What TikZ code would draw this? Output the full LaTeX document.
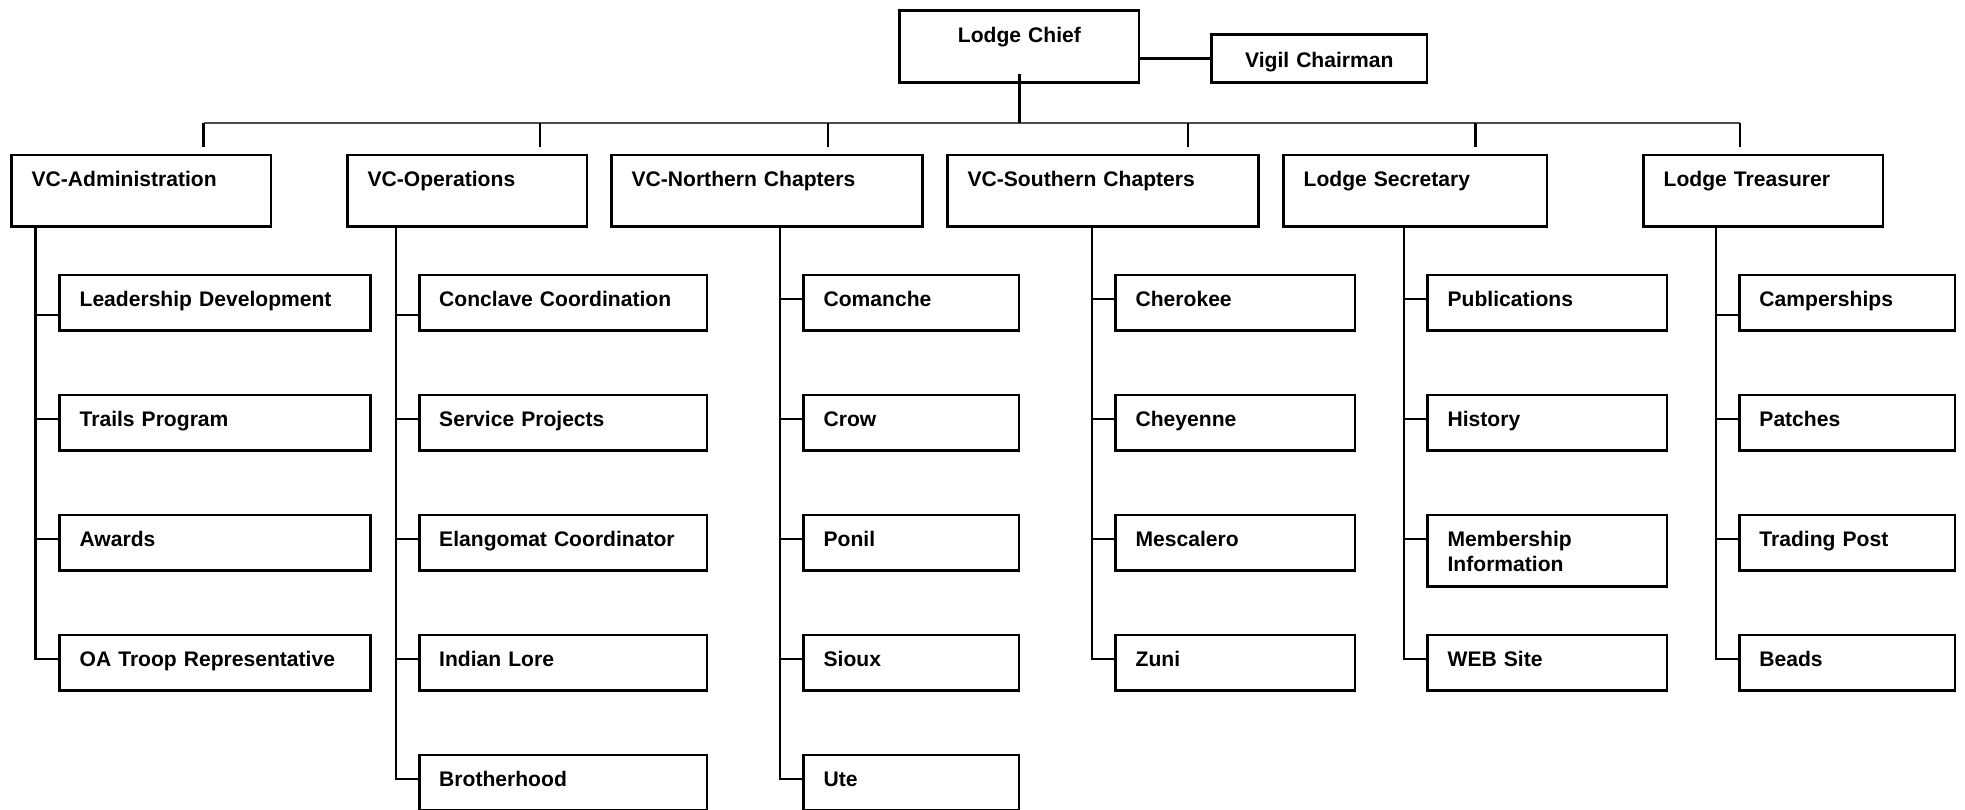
\documentclass[tikz,border=0pt]{standalone}
\usepackage{fontspec}
\setmainfont{Liberation Sans}
\usetikzlibrary{calc}
\newdimen\pxu \pxu=0.56693pt
\definecolor{orgblack}{HTML}{000000}
\definecolor{orggray}{HTML}{4B4B4B}

\begin{document}
\begin{tikzpicture}[x=0.02cm, y=-0.02cm, every node/.style={font=\fontsize{12}{14.2}\selectfont\bfseries},
  orgbox/.style={rectangle, draw=orgblack, line width=2.6\pxu, anchor=north west, outer sep=0pt, inner xsep=20\pxu, inner ysep=0pt, text height=32\pxu},
  chiefbox/.style={orgbox, align=center, text width=#1\pxu},
  headbox/.style={orgbox, align=left, text width=#1\pxu, text depth=40\pxu},
  itembox/.style={orgbox, align=left, text width=#1\pxu, text depth=24\pxu},
  link/.style={draw=orgblack, line width=2.6\pxu},
  busline/.style={draw=orggray, line width=2\pxu},
]
\useasboundingbox (0,0) rectangle (1965,809);
\clip (0,0) rectangle (1965,809);
\node[chiefbox=200.3, text depth=40\pxu] (chief) at (899.7,10.7) {Lodge Chief};
\node[chiefbox=176, text height=33\pxu, text depth=15\pxu] (vigil) at (1211.7,34.7) {Vigil Chairman};
\node[headbox=220.3] (adm) at (11.7,155) {VC-Administration}; \node[headbox=200.3] (ops) at (347.7,155) {VC-Operations}; \node[headbox=272.3] (nth) at (611.7,155) {VC-Northern Chapters};
\node[headbox=272.3] (sth) at (947.7,155) {VC-Southern Chapters}; \node[headbox=224.3] (sec) at (1283.7,155) {Lodge Secretary}; \node[headbox=200.3] (trs) at (1643.7,155) {Lodge Treasurer};
\node[itembox=272.3] (adm1) at (59.7,275) {Leadership Development}; \node[itembox=272.3] (adm2) at (59.7,395) {Trails Program}; \node[itembox=272.3] (adm3) at (59.7,515) {Awards}; \node[itembox=272.3] (adm4) at (59.7,635) {OA Troop Representative};
\node[itembox=249] (ops1) at (419.3,275) {Conclave Coordination}; \node[itembox=249] (ops2) at (419.3,395) {Service Projects}; \node[itembox=249] (ops3) at (419.3,515) {Elangomat Coordinator}; \node[itembox=249] (ops4) at (419.3,635) {Indian Lore}; \node[itembox=249] (ops5) at (419.3,755) {Brotherhood};
\node[itembox=176.3] (nth1) at (803.7,275) {Comanche}; \node[itembox=176.3] (nth2) at (803.7,395) {Crow}; \node[itembox=176.3] (nth3) at (803.7,515) {Ponil}; \node[itembox=176.3] (nth4) at (803.7,635) {Sioux}; \node[itembox=176.3] (nth5) at (803.7,755) {Ute};
\node[itembox=200.3] (sth1) at (1115.7,275) {Cherokee}; \node[itembox=200.3] (sth2) at (1115.7,395) {Cheyenne}; \node[itembox=200.3] (sth3) at (1115.7,515) {Mescalero}; \node[itembox=200.3] (sth4) at (1115.7,635) {Zuni};
\node[itembox=200.3] (sec1) at (1427.7,275) {Publications}; \node[itembox=200.3] (sec2) at (1427.7,395) {History}; \node[itembox=200.3, text depth=40\pxu] (sec3) at (1427.7,515) {Membership\\Information}; \node[itembox=200.3] (sec4) at (1427.7,635) {WEB Site};
\node[itembox=176.5] (trs1) at (1739.5,275) {Camperships}; \node[itembox=176.5] (trs2) at (1739.5,395) {Patches}; \node[itembox=176.5] (trs3) at (1739.5,515) {Trading Post}; \node[itembox=176.5] (trs4) at (1739.5,635) {Beads};
\coordinate (bus) at (0,122.7);
\coordinate (dAdm) at ([shift={(192,-8)}]adm.north west); \coordinate (dOps) at ([shift={(192.3,-8)}]ops.north west); \coordinate (dNth) at ([shift={(216.3,-8)}]nth.north west);
\coordinate (dSth) at ([shift={(240.3,-8)}]sth.north west); \coordinate (dSec) at ([shift={(192,-8)}]sec.north west); \coordinate (dTrs) at ([shift={(96.3,-8)}]trs.north west);
\coordinate (spAdm) at ([shift={(24,0)}]adm.south west); \coordinate (spOps) at ([shift={(48.3,0)}]ops.south west); \coordinate (spNth) at ([shift={(168.3,0)}]nth.south west);
\coordinate (spSth) at ([shift={(144.3,0)}]sth.south west); \coordinate (spSec) at ([shift={(120.3,0)}]sec.south west); \coordinate (spTrs) at ([shift={(72.3,0)}]trs.south west);
\draw[link] (chief.east |- vigil.west) -- (vigil.west);
\draw[busline] (dAdm |- bus) -- (dTrs |- bus);
\draw[link] ([yshift=8\pxu]chief.south) -- (chief.south |- bus);
\draw[link] (dAdm) -- (dAdm |- bus); \draw[link] (dOps) -- (dOps |- bus); \draw[link] (dNth) -- (dNth |- bus); \draw[link] (dSth) -- (dSth |- bus); \draw[link] (dSec) -- (dSec |- bus); \draw[link] (dTrs) -- (dTrs |- bus);
\draw[link] ([shift={(0,40)}]adm1.north west) -| (spAdm); \draw[link] ([shift={(0,24)}]adm2.north west) -| (spAdm); \draw[link] ([shift={(0,24)}]adm3.north west) -| (spAdm); \draw[link] ([shift={(0,24)}]adm4.north west) -| (spAdm);
\draw[link] ([shift={(0,40)}]ops1.north west) -| (spOps); \draw[link] ([shift={(0,24)}]ops2.north west) -| (spOps); \draw[link] ([shift={(0,24)}]ops3.north west) -| (spOps); \draw[link] ([shift={(0,24)}]ops4.north west) -| (spOps); \draw[link] ([shift={(0,24)}]ops5.north west) -| (spOps);
\draw[link] ([shift={(0,24)}]nth1.north west) -| (spNth); \draw[link] ([shift={(0,24)}]nth2.north west) -| (spNth); \draw[link] ([shift={(0,24)}]nth3.north west) -| (spNth); \draw[link] ([shift={(0,24)}]nth4.north west) -| (spNth); \draw[link] ([shift={(0,24)}]nth5.north west) -| (spNth);
\draw[link] ([shift={(0,24)}]sth1.north west) -| (spSth); \draw[link] ([shift={(0,24)}]sth2.north west) -| (spSth); \draw[link] ([shift={(0,24)}]sth3.north west) -| (spSth); \draw[link] ([shift={(0,24)}]sth4.north west) -| (spSth);
\draw[link] ([shift={(0,24)}]sec1.north west) -| (spSec); \draw[link] ([shift={(0,24)}]sec2.north west) -| (spSec); \draw[link] ([shift={(0,24)}]sec3.north west) -| (spSec); \draw[link] ([shift={(0,24)}]sec4.north west) -| (spSec);
\draw[link] ([shift={(0,40)}]trs1.north west) -| (spTrs); \draw[link] ([shift={(0,24)}]trs2.north west) -| (spTrs); \draw[link] ([shift={(0,24)}]trs3.north west) -| (spTrs); \draw[link] ([shift={(0,24)}]trs4.north west) -| (spTrs);
\end{tikzpicture}
\end{document}
